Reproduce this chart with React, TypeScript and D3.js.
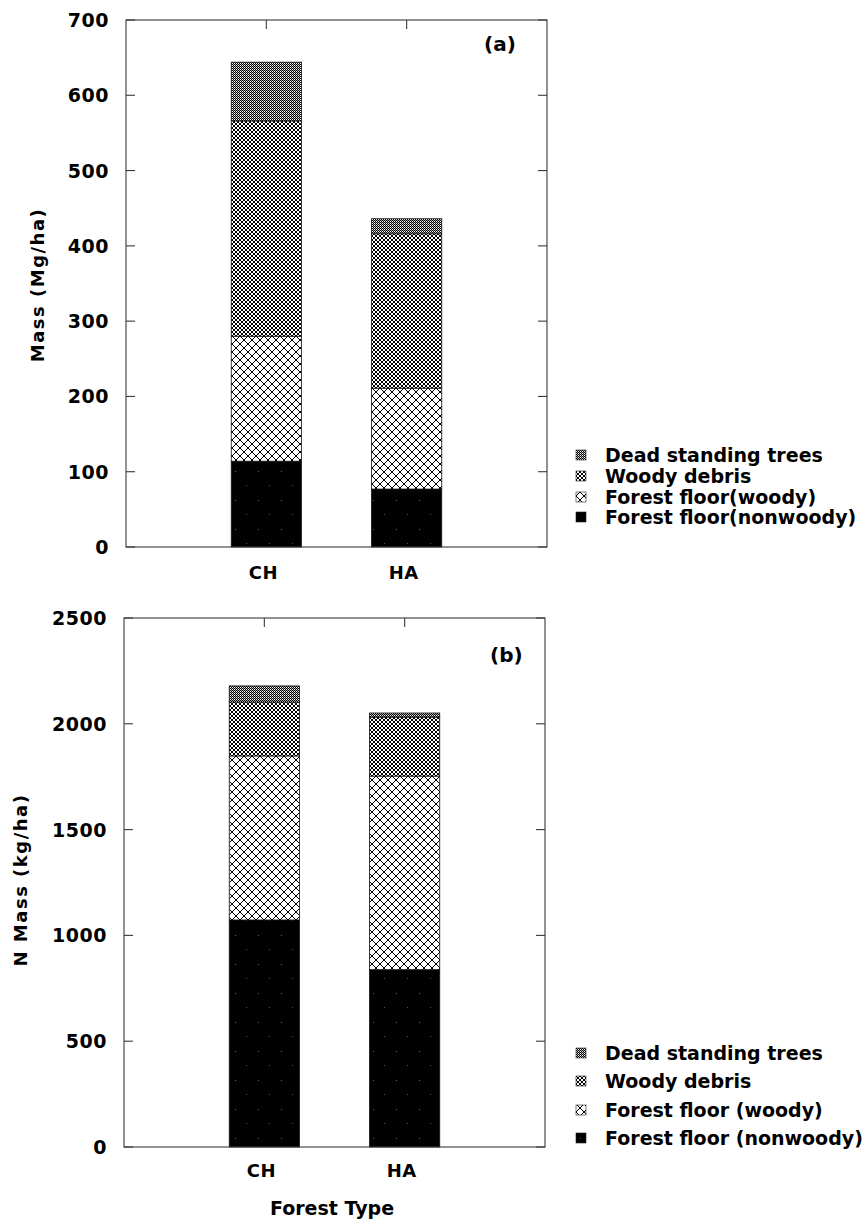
import React from 'react';
import * as d3 from 'd3';

const categories = ['CH', 'HA'];
const seriesKeys = ['nonwoody', 'floorwoody', 'debris', 'dead'];
const legendNamesA = ['Forest floor(nonwoody)', 'Forest floor(woody)', 'Woody debris', 'Dead standing trees'];
const legendNamesB = ['Forest floor (nonwoody)', 'Forest floor (woody)', 'Woody debris', 'Dead standing trees'];

// Panel (a): Mass (Mg/ha)
const massNonwoody = [114, 77];
const massFloorWoody = [166, 134];
const massWoodyDebris = [286, 205];
const massDeadTrees = [78, 20];
const massTicks = [0, 100, 200, 300, 400, 500, 600, 700];

// Panel (b): N Mass (kg/ha)
const nNonwoody = [1073, 838];
const nFloorWoody = [775, 915];
const nWoodyDebris = [255, 279];
const nDeadTrees = [76, 19];
const nTicks = [0, 500, 1000, 1500, 2000, 2500];

const FONT = "'DejaVu Sans', Verdana, sans-serif";
const AXIS = '#3a3a3a';

type Box = { left: number; right: number; top: number; bottom: number };

function Patterns() {
  return (
    <defs>
      <pattern id="pat-dead" width={2} height={2} patternUnits="userSpaceOnUse">
        <rect width={2} height={2} fill="#fff" />
        <rect x={0} y={0} width={1} height={1} fill="#000" />
        <rect x={1} y={1} width={1} height={1} fill="#000" />
        <rect x={1} y={0} width={1} height={1} fill="#999" />
      </pattern>
      <pattern id="pat-debris" width={4} height={4} patternUnits="userSpaceOnUse">
        <rect width={4} height={4} fill="#fff" />
        {[0, 1, 2, 3].map((i) => (
          <React.Fragment key={i}>
            <rect x={i} y={i} width={1} height={1} fill="#000" />
            <rect x={3 - i} y={i} width={1} height={1} fill="#000" />
          </React.Fragment>
        ))}
      </pattern>
      <pattern id="pat-floorwoody" width={8} height={8} patternUnits="userSpaceOnUse">
        <rect width={8} height={8} fill="#fff" />
        <path d="M-1,-1 L9,9 M-1,9 L9,-1" stroke="#000" strokeWidth={1} fill="none" />
      </pattern>
      <pattern id="pat-nonwoody" width={23} height={29} patternUnits="userSpaceOnUse">
        <rect width={23} height={29} fill="#000" />
        <rect x={5} y={7} width={1} height={1} fill="#666" />
        <rect x={16} y={21} width={1} height={1} fill="#555" />
      </pattern>
    </defs>
  );
}

type PanelProps = {
  series: number[][];
  ticks: number[];
  yMax: number;
  box: Box;
  tag: string;
  tagX: number;
  tagY: number;
  yTitle: string;
  yTitleX: number;
  yTitleY: number;
  legendNames: string[];
  legendYs: number[];
  catLabelY: number;
};

function Panel(p: PanelProps) {
  const { box } = p;
  const y = d3.scaleLinear().domain([0, p.yMax]).range([box.bottom, box.top]);
  const x = d3.scalePoint<string>().domain(categories).range([box.left, box.right]).padding(1);
  const bw = x.step() / 2;
  const rows = categories.map((c, i) => {
    const r: any = { cat: c };
    seriesKeys.forEach((k, j) => (r[k] = p.series[j][i]));
    return r;
  });
  const stacked = d3.stack<any>().keys(seriesKeys)(rows);
  const legendOrder = [3, 2, 1, 0];
  return (
    <g>
      {stacked.map((layer, j) => (
        <g key={layer.key}>
          {layer.map((d, i) => (
            <rect
              key={i}
              x={(x(categories[i]) as number) - bw / 2}
              y={y(d[1])}
              width={bw}
              height={y(d[0]) - y(d[1])}
              fill={`url(#pat-${seriesKeys[j]})`}
              stroke="#111"
              strokeWidth={0.8}
            />
          ))}
        </g>
      ))}
      {/* frame */}
      <rect x={box.left} y={box.top} width={box.right - box.left} height={box.bottom - box.top} fill="none" stroke={AXIS} strokeWidth={1.1} />
      {p.ticks.map((t) => (
        <g key={t}>
          <line x1={box.left} x2={box.left + 9} y1={y(t)} y2={y(t)} stroke={AXIS} strokeWidth={1.1} />
          <line x1={box.right - 9} x2={box.right} y1={y(t)} y2={y(t)} stroke={AXIS} strokeWidth={1.1} />
          <text
            x={box.left - 17}
            y={y(t)}
            textAnchor="end"
            dominantBaseline="central"
            fontFamily={FONT}
            fontWeight="bold"
            fontSize={19}
            letterSpacing={0.5}
          >
            {t}
          </text>
        </g>
      ))}
      {categories.map((c) => (
        <g key={c}>
          <line x1={x(c)} x2={x(c)} y1={box.top} y2={box.top + 9} stroke={AXIS} strokeWidth={1.1} />
          <text
            x={(x(c) as number) - 3}
            y={p.catLabelY}
            textAnchor="middle"
            dominantBaseline="central"
            fontFamily={FONT}
            fontWeight="bold"
            fontSize={18}
            letterSpacing={0.5}
          >
            {c}
          </text>
        </g>
      ))}
      <text x={p.tagX} y={p.tagY} dominantBaseline="central" fontFamily={FONT} fontWeight="bold" fontSize={20}>
        {p.tag}
      </text>
      <text
        transform={`translate(${p.yTitleX},${p.yTitleY}) rotate(-90)`}
        textAnchor="middle"
        dominantBaseline="central"
        fontFamily={FONT}
        fontWeight="bold"
        fontSize={18}
        letterSpacing={1.5}
      >
        {p.yTitle}
      </text>
      {legendOrder.map((j, r) => (
        <g key={j}>
          <rect x={576} y={p.legendYs[r] - 5} width={10} height={10} fill={`url(#pat-${seriesKeys[j]})`} stroke="#222" strokeWidth={0.6} />
          <text
            x={605}
            y={p.legendYs[r]}
            dominantBaseline="central"
            fontFamily={FONT}
            fontWeight="bold"
            fontSize={19}
          >
            {p.legendNames[j]}
          </text>
        </g>
      ))}
    </g>
  );
}

export default function App() {
  return (
    <svg width={867} height={1221} style={{ position: 'absolute', left: 0, top: 0, background: '#fff' }}>
      <Patterns />
      <rect width={867} height={1221} fill="#fff" />
      <Panel
        series={[massNonwoody, massFloorWoody, massWoodyDebris, massDeadTrees]}
        ticks={massTicks}
        yMax={700}
        box={{ left: 126, right: 547, top: 20, bottom: 547 }}
        tag="(a)"
        tagX={484}
        tagY={44}
        yTitle="Mass (Mg/ha)"
        yTitleX={37}
        yTitleY={285}
        legendNames={legendNamesA}
        legendYs={[455, 476, 497, 517]}
        catLabelY={572}
      />
      <Panel
        series={[nNonwoody, nFloorWoody, nWoodyDebris, nDeadTrees]}
        ticks={nTicks}
        yMax={2500}
        box={{ left: 124, right: 545, top: 618, bottom: 1147 }}
        tag="(b)"
        tagX={490}
        tagY={655}
        yTitle="N Mass (kg/ha)"
        yTitleX={20}
        yTitleY={880}
        legendNames={legendNamesB}
        legendYs={[1053, 1081, 1110, 1138]}
        catLabelY={1170}
      />
      <text x={332} y={1208} textAnchor="middle" dominantBaseline="central" fontFamily={FONT} fontWeight="bold" fontSize={19}>
        Forest Type
      </text>
    </svg>
  );
}
